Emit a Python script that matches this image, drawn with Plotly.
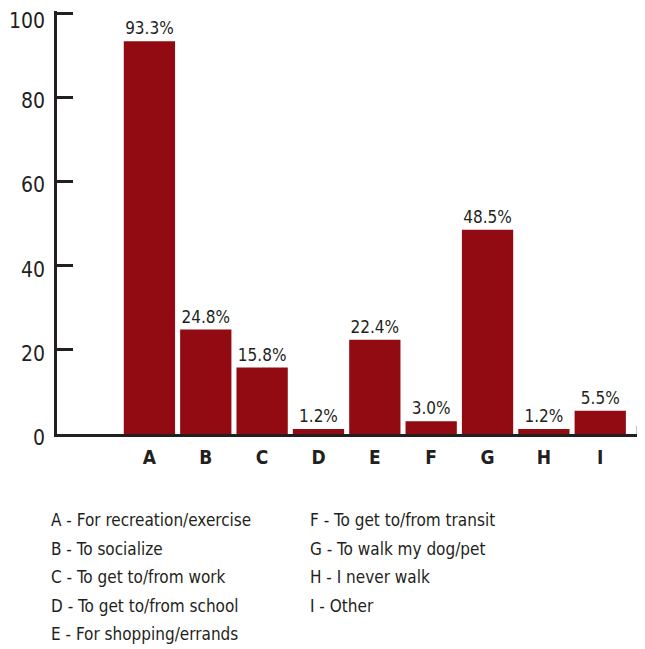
import plotly.graph_objects as go

# Chart data
categories = ['A', 'B', 'C', 'D', 'E', 'F', 'G', 'H', 'I']
percents = [93.3, 24.8, 15.8, 1.2, 22.4, 3.0, 48.5, 1.2, 5.5]
y_ticks = [0, 20, 40, 60, 80, 100]
legend_left = ['A - For recreation/exercise', 'B - To socialize',
               'C - To get to/from work', 'D - To get to/from school',
               'E - For shopping/errands']
legend_right = ['F - To get to/from transit', 'G - To walk my dog/pet',
                'H - I never walk', 'I - Other']

font_family = 'DejaVu Sans Condensed, sans-serif'
ink = '#231f20'
bar_red = '#930b12'

# The page puts the figure 8px in from the top-left corner.
W, H = 637, 641
y_max = 100.5
left, right, bottom = 49, 630, 426
top = 5.5 - (y_max - 100) * 420.5 / 100


def px_to_paper(px, py):
    return (px - 8 - left) / (right - left), (bottom - (py - 8)) / (bottom - top)


fig = go.Figure(go.Bar(x=categories,
                       y=percents,
                       marker_color=bar_red,
                       marker_line_width=0,
                       text=[f"{p:.1f}%" for p in percents],
                       textposition='outside',
                       textfont=dict(size=17, color=ink, family=font_family),
                       cliponaxis=False))

fig.update_layout(width=W, height=H,
                  margin=dict(l=left, r=W - right, t=top, b=H - bottom),
                  plot_bgcolor='white',
                  paper_bgcolor='white',
                  bargap=0.09,
                  showlegend=False,
                  font=dict(family=font_family, color=ink),
                  uniformtext=dict(minsize=17, mode='show'))

fig.update_xaxes(type='category',
                 range=[-1.64, 8.67],
                 showline=True, linecolor=ink, linewidth=2.5,
                 ticks='', showgrid=False,
                 tickfont=dict(size=19, family=font_family, color=ink,
                               weight='bold'),
                 ticklabelstandoff=4)

fig.update_yaxes(range=[0, y_max],
                 tickvals=y_ticks,
                 showticklabels=False,
                 showline=True, linecolor=ink, linewidth=2.5,
                 ticks='inside', ticklen=16, tickwidth=2.5, tickcolor=ink,
                 showgrid=False, zeroline=False)

# Y tick labels sit a little below their ticks; drawn as annotations so the
# top one is not dropped at the figure edge (that one hangs from its tick).
for v in y_ticks:
    at_top = v == max(y_ticks)
    fig.add_annotation(text=str(v), xref='paper', yref='y', x=0, y=v,
                       xanchor='right',
                       yanchor='top' if at_top else 'middle',
                       showarrow=False, borderpad=0,
                       xshift=-11, yshift=5.5 if at_top else -4,
                       font=dict(size=21, family=font_family, color=ink))

# Small end tick at the right of the x axis.
fig.add_shape(type='line', xref='paper', yref='paper',
              x0=1, x1=1, y0=0, y1=0.02,
              line=dict(color=ink, width=2.5))

# Key under the chart, two columns.
for col_x, items in ((49, legend_left), (308, legend_right)):
    for i, label in enumerate(items):
        ax, ay = px_to_paper(col_x, 520 + i * 28.5)
        fig.add_annotation(text=label, xref='paper', yref='paper',
                           x=ax, y=ay,
                           xanchor='left', yanchor='middle', showarrow=False,
                           font=dict(size=17, family=font_family, color=ink))

fig.write_html("out.html")
